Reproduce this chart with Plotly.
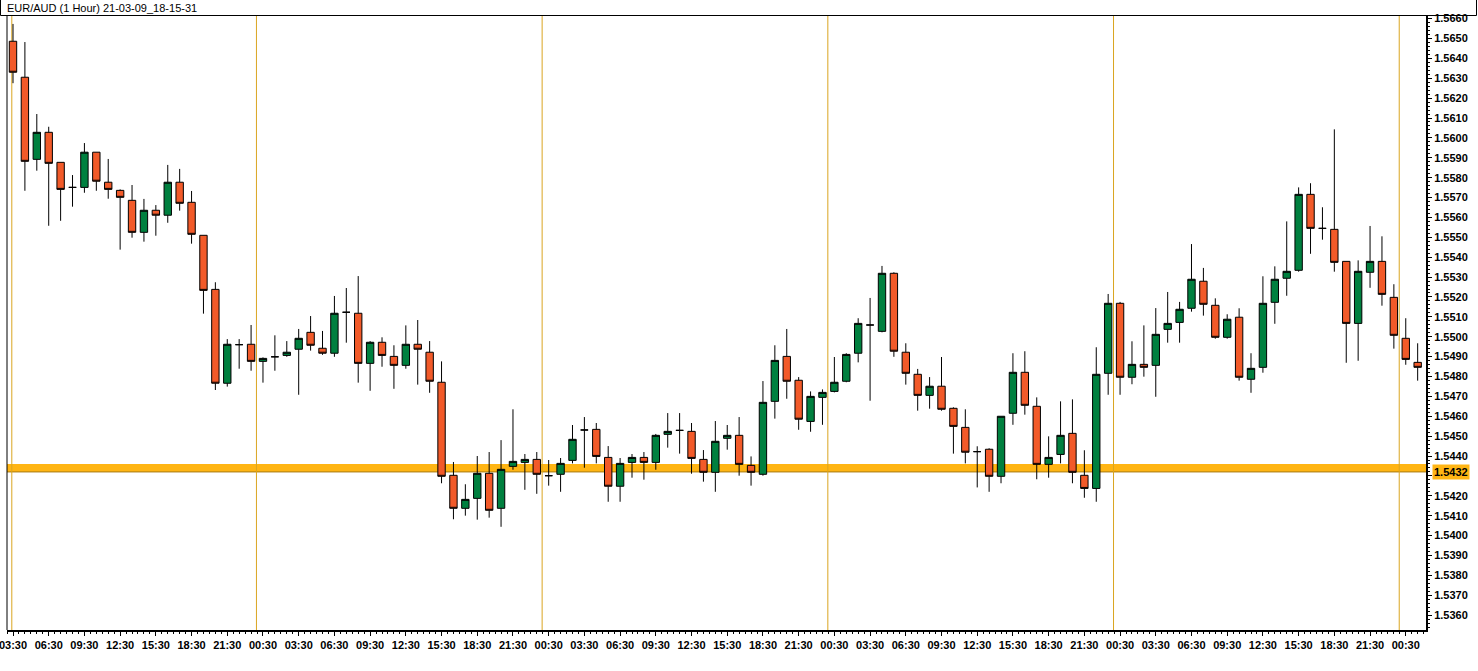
import plotly.graph_objects as go

title_text = "EUR/AUD (1 Hour) 21-03-09_18-15-31"

opens = [1.56486, 1.56305, 1.55892, 1.56028, 1.55877, 1.55751, 1.55751, 1.55928, 1.55777, 1.55736,
         1.55686, 1.55525, 1.55636, 1.55611, 1.55777, 1.55676, 1.55510, 1.55238, 1.54766, 1.54960,
         1.54962, 1.54876, 1.54899, 1.54906, 1.54937, 1.55022, 1.54942, 1.54917, 1.55123, 1.55118,
         1.54866, 1.54972, 1.54901, 1.54856, 1.54962, 1.54922, 1.54771, 1.54303, 1.54137, 1.54187,
         1.54313, 1.54137, 1.54348, 1.54368, 1.54383, 1.54301, 1.54308, 1.54378, 1.54531, 1.54534,
         1.54393, 1.54248, 1.54368, 1.54393, 1.54368, 1.54509, 1.54529, 1.54524, 1.54383, 1.54318,
         1.54489, 1.54504, 1.54353, 1.54308, 1.54675, 1.54901, 1.54781, 1.54574, 1.54695, 1.54725,
         1.54776, 1.54917, 1.55059, 1.55027, 1.55319, 1.54922, 1.54811, 1.54705, 1.54751, 1.54640,
         1.54544, 1.54422, 1.54434, 1.54298, 1.54615, 1.54821, 1.54650, 1.54358, 1.54408, 1.54514,
         1.54303, 1.54237, 1.54816, 1.55168, 1.54796, 1.54861, 1.54856, 1.55037, 1.55072, 1.55143,
         1.55279, 1.55158, 1.54997, 1.55098, 1.54786, 1.54846, 1.55173, 1.55294, 1.55334, 1.55716,
         1.55545, 1.55540, 1.55379, 1.55067, 1.55324, 1.55379, 1.55198, 1.54992, 1.54871]
highs = [1.56573, 1.56482, 1.56120, 1.56056, 1.55877, 1.55813, 1.55974, 1.55928, 1.55894, 1.55741,
         1.55763, 1.55693, 1.55662, 1.55864, 1.55844, 1.55733, 1.55510, 1.55274, 1.54988, 1.54988,
         1.55059, 1.54896, 1.55007, 1.54978, 1.55039, 1.55104, 1.55029, 1.55205, 1.55245, 1.55305,
         1.54978, 1.54997, 1.54957, 1.55057, 1.55084, 1.54978, 1.54876, 1.54370, 1.54258, 1.54400,
         1.54420, 1.54480, 1.54635, 1.54410, 1.54420, 1.54380, 1.54390, 1.54556, 1.54596, 1.54566,
         1.54450, 1.54390, 1.54410, 1.54420, 1.54511, 1.54616, 1.54616, 1.54566, 1.54430, 1.54576,
         1.54556, 1.54596, 1.54398, 1.54777, 1.54957, 1.55039, 1.54797, 1.54725, 1.54735, 1.54898,
         1.54917, 1.55093, 1.55195, 1.55356, 1.55324, 1.54967, 1.54838, 1.54797, 1.54898, 1.54645,
         1.54635, 1.54449, 1.54439, 1.54600, 1.54917, 1.54927, 1.54695, 1.54499, 1.54675, 1.54685,
         1.54429, 1.54947, 1.55215, 1.55175, 1.54977, 1.55057, 1.55144, 1.55225, 1.55175, 1.55466,
         1.55346, 1.55193, 1.55113, 1.55143, 1.54917, 1.55304, 1.55354, 1.55580, 1.55751, 1.55772,
         1.55651, 1.56043, 1.55379, 1.55384, 1.55557, 1.55505, 1.55264, 1.55093, 1.54967]
lows = [1.56275, 1.55734, 1.55835, 1.55558, 1.55583, 1.55654, 1.55724, 1.55734, 1.55694, 1.55438,
        1.55498, 1.55478, 1.55508, 1.55573, 1.55634, 1.55468, 1.55116, 1.54732, 1.54749, 1.54839,
        1.54829, 1.54769, 1.54829, 1.54899, 1.54708, 1.54930, 1.54909, 1.54899, 1.54970, 1.54769,
        1.54728, 1.54849, 1.54738, 1.54839, 1.54759, 1.54718, 1.54263, 1.54082, 1.54100, 1.54080,
        1.54090, 1.54044, 1.54331, 1.54230, 1.54210, 1.54251, 1.54220, 1.54363, 1.54341, 1.54363,
        1.54170, 1.54170, 1.54291, 1.54281, 1.54331, 1.54442, 1.54412, 1.54311, 1.54271, 1.54220,
        1.54432, 1.54301, 1.54251, 1.54301, 1.54588, 1.54688, 1.54532, 1.54522, 1.54557, 1.54720,
        1.54771, 1.54871, 1.54678, 1.55022, 1.54899, 1.54759, 1.54628, 1.54638, 1.54628, 1.54412,
        1.54363, 1.54242, 1.54220, 1.54263, 1.54557, 1.54608, 1.54283, 1.54291, 1.54363, 1.54263,
        1.54190, 1.54170, 1.54708, 1.54708, 1.54761, 1.54799, 1.54698, 1.54970, 1.54970, 1.55126,
        1.55106, 1.54990, 1.54990, 1.54779, 1.54718, 1.54819, 1.55065, 1.55206, 1.55327, 1.55417,
        1.55488, 1.55327, 1.54869, 1.54879, 1.55246, 1.55156, 1.54940, 1.54859, 1.54779]
closes = [1.56330, 1.55882, 1.56028, 1.55872, 1.55741, 1.55751, 1.55928, 1.55782, 1.55741, 1.55701,
          1.55525, 1.55636, 1.55611, 1.55777, 1.55671, 1.55515, 1.55233, 1.54766, 1.54962, 1.54960,
          1.54876, 1.54891, 1.54899, 1.54922, 1.54992, 1.54957, 1.54917, 1.55118, 1.55123, 1.54866,
          1.54972, 1.54906, 1.54856, 1.54962, 1.54937, 1.54776, 1.54298, 1.54137, 1.54182, 1.54313,
          1.54127, 1.54333, 1.54373, 1.54383, 1.54308, 1.54301, 1.54363, 1.54484, 1.54531, 1.54398,
          1.54248, 1.54363, 1.54393, 1.54368, 1.54504, 1.54524, 1.54529, 1.54388, 1.54318, 1.54474,
          1.54504, 1.54358, 1.54318, 1.54670, 1.54881, 1.54776, 1.54585, 1.54700, 1.54720, 1.54771,
          1.54911, 1.55067, 1.55059, 1.55319, 1.54927, 1.54816, 1.54705, 1.54751, 1.54635, 1.54549,
          1.54419, 1.54422, 1.54298, 1.54600, 1.54821, 1.54655, 1.54358, 1.54393, 1.54504, 1.54318,
          1.54237, 1.54811, 1.55168, 1.54796, 1.54861, 1.54846, 1.55012, 1.55067, 1.55138, 1.55289,
          1.55163, 1.54997, 1.55088, 1.54796, 1.54841, 1.55168, 1.55289, 1.55329, 1.55716, 1.55545,
          1.55545, 1.55374, 1.55067, 1.55329, 1.55379, 1.55213, 1.55007, 1.54886, 1.54846]

hour_labels = ["03:30", "06:30", "09:30", "12:30", "15:30", "18:30", "21:30", "00:30"]
price_ticks = [1.5360, 1.5370, 1.5380, 1.5390, 1.5400, 1.5410, 1.5420, 1.5430, 1.5440, 1.5450,
               1.5460, 1.5470, 1.5480, 1.5490, 1.5500, 1.5510, 1.5520, 1.5530, 1.5540, 1.5550,
               1.5560, 1.5570, 1.5580, 1.5590, 1.5600, 1.5610, 1.5620, 1.5630, 1.5640, 1.5650,
               1.5660]
price_labels = ["1.5360", "1.5370", "1.5380", "1.5390", "1.5400", "1.5410", "1.5420", "", "1.5440",
                "1.5450", "1.5460", "1.5470", "1.5480", "1.5490", "1.5500", "1.5510", "1.5520",
                "1.5530", "1.5540", "1.5550", "1.5560", "1.5570", "1.5580", "1.5590", "1.5600",
                "1.5610", "1.5620", "1.5630", "1.5640", "1.5650", "1.5660"]
level = 1.5432
level_label = "1.5432"
separators = [-0.1, 20.45, 44.45, 68.45, 92.45, 116.45]

n = len(opens)
xs = list(range(n))
x_tickvals = list(range(0, n, 3))
x_ticktext = [hour_labels[k % len(hour_labels)] for k in range(len(x_tickvals))]

GREEN = "#00803F"
ORANGE = "#F25A29"
GOLD = "#DAA520"
BAND = "#FFB514"
FONT = "Liberation Sans, Arial, sans-serif"

# pixel geometry of plot area
W, H = 1478, 671
L, R, T, B = 7, 1426, 15, 630
pw, ph = R - L, B - T


def px_x(px):
    return (px - L) / pw


def px_y(py):
    return (B - py) / ph


fig = go.Figure()
fig.add_trace(go.Candlestick(
    x=xs, open=opens, high=highs, low=lows, close=closes,
    increasing=dict(fillcolor=GREEN, line=dict(color="black", width=1)),
    decreasing=dict(fillcolor=ORANGE, line=dict(color="black", width=1)),
    whiskerwidth=0, showlegend=False, hoverinfo="skip",
))

shapes = []
# level band
shapes.append(dict(type="rect", xref="paper", yref="y", x0=0, x1=1, y0=level, y1=level + 0.0004,
                   fillcolor=BAND, line=dict(width=0), layer="below"))
shapes.append(dict(type="line", xref="paper", yref="y", x0=0, x1=1, y0=level, y1=level,
                   line=dict(color="#A87A10", width=1), layer="below"))
for s in separators:
    shapes.append(dict(type="line", xref="x", yref="paper", x0=s, x1=s, y0=0, y1=1,
                       line=dict(color=GOLD, width=1), layer="below"))
# left plot border
shapes.append(dict(type="line", xref="paper", yref="paper", x0=0, x1=0, y0=0, y1=1,
                   line=dict(color="black", width=1)))
# title box
tx0, tx1 = px_x(0.5), px_x(1476.5)
ty0, ty1 = px_y(15.5), px_y(-1)
shapes.append(dict(type="line", xref="paper", yref="paper", x0=tx0, x1=tx1, y0=ty0, y1=ty0,
                   line=dict(color="black", width=1)))
shapes.append(dict(type="line", xref="paper", yref="paper", x0=tx1, x1=tx1, y0=ty0, y1=ty1,
                   line=dict(color="black", width=1)))
shapes.append(dict(type="line", xref="paper", yref="paper", x0=tx0, x1=tx0, y0=ty0, y1=ty1,
                   line=dict(color="black", width=1)))

annotations = [
    dict(text=title_text, xref="paper", yref="paper", x=px_x(5), y=px_y(8),
         xanchor="left", yanchor="middle", showarrow=False,
         font=dict(family=FONT, size=11, color="black")),
    dict(text=level_label, xref="paper", yref="y", x=px_x(1432), y=level,
         xanchor="left", yanchor="middle", showarrow=False, bgcolor=BAND, borderpad=1,
         font=dict(family=FONT, size=11, color="black", weight="bold")),
]

fig.update_layout(
    width=W, height=H, autosize=False,
    margin=dict(l=L, r=W - R, t=T, b=H - B, pad=0, autoexpand=False),
    paper_bgcolor="white", plot_bgcolor="white",
    boxgap=0.38, boxgroupgap=0,
    shapes=shapes, annotations=annotations,
    xaxis=dict(
        range=[-0.504, 118.70], rangeslider=dict(visible=False), automargin=False,
        tickmode="array", tickvals=x_tickvals, ticktext=x_ticktext,
        ticklabeloverflow="allow",
        ticks="outside", ticklen=4, tickwidth=1, tickcolor="black",
        showline=True, linewidth=2, linecolor="black", showgrid=False, zeroline=False,
        tickfont=dict(family=FONT, size=11, color="black", weight="bold"),
        minor=dict(tickmode="linear", tick0=0, dtick=0.5, ticks="outside", ticklen=2,
                   tickcolor="black", showgrid=False),
    ),
    yaxis=dict(
        side="right", range=[1.53525, 1.56618], automargin=False,
        tickmode="array", tickvals=price_ticks, ticktext=price_labels,
        ticklabeloverflow="allow",
        ticks="outside", ticklen=4, tickwidth=1, tickcolor="black",
        showline=True, linewidth=2, linecolor="black", showgrid=False, zeroline=False,
        tickfont=dict(family=FONT, size=11, color="black", weight="bold"),
        minor=dict(tickmode="linear", tick0=1.536, dtick=0.0002, ticks="outside", ticklen=2,
                   tickcolor="black", showgrid=False),
    ),
)

fig.write_html(
    "out.html",
    config={"displayModeBar": False, "staticPlot": True},
    post_script="document.body.style.margin='0px';document.body.style.padding='0px';"
                "document.body.style.overflow='hidden';",
)
